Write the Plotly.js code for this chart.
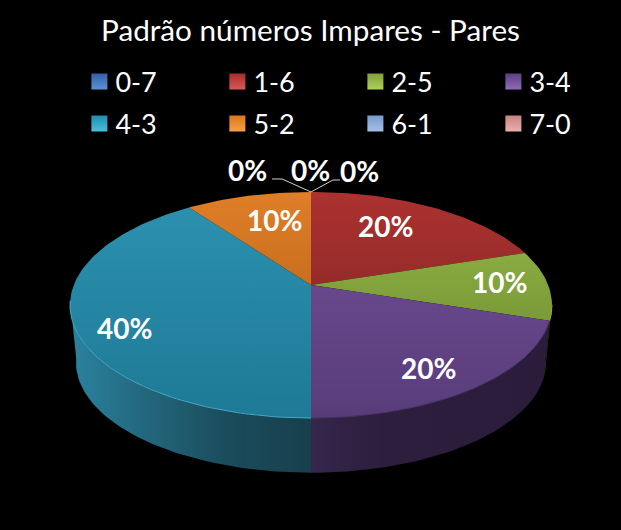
<!DOCTYPE html>
<html><head><meta charset="utf-8">
<script src="https://cdn.plot.ly/plotly-3.0.1.min.js"></script>
<style>html,body{margin:0;padding:0;background:#000}</style></head>
<body><div id="chart" style="width:621px;height:530px"></div>
<script>
// ---- data ----
const chartTitle = "Padrão números Impares - Pares";
const categories = ["0-7","1-6","2-5","3-4","4-3","5-2","6-1","7-0"];
const shares = [0,20,10,20,40,10,0,0];   // per cent, as printed on the labels

// ---- styling ----
const topColors = [["#35609a","#3d6ea8"],["#962b29","#ab3230"],["#7b9a38","#89ab40"],["#583c7a","#68488c"],
                   ["#1e7a96","#2b90ae"],["#c96f1e","#e07e28"],["#6e8dbe","#7f9fd0"],["#bd7c7a","#d08e8c"]];
const wallColors = [[[0,"#223"],[1,"#223"]],[[0,"#3a1512"],[1,"#3a1512"]],[[0,"#2f3a16"],[1,"#2a3413"]],
                    [[0,"#35264c"],[0.3,"#2c1e3c"],[1,"#2a1c3a"]],
                    [[0,"#2b83a0"],[0.3,"#23687e"],[0.65,"#1a4c5c"],[1,"#173f4d"]],
                    [[0,"#7a4210"],[1,"#7a4210"]],[[0,"#334"],[1,"#334"]],[[0,"#433"],[1,"#433"]]];
const rimColors = ["#3d6ea8","#b43431","#8fb043","#4a3366","#45a9c6","#e8832a","#7f9fd0","#d08e8c"];
const legendTop = [["#5b93d6","#2f62a3"],["#d85a56","#a82e2b"],["#aed05c","#80a038"],["#8f6bb5","#5f3f85"],
                   ["#45c0dd","#1f8dab"],["#f7a04a","#d87818"],["#a4c0e8","#7b9bcc"],["#eab0ae","#c88482"]];
const labelRadius = [0,0.68,0.8,0.78,0.82,0.75,0,0];
const labelNudge = [[0,0],[-12,-4],[-1,-3],[-5,5],[7,14],[12,4],[0,0],[0,0]];
const zeroOffset = {0:[-64,-22],6:[-1,-22],7:[48,-21]};

// ---- projection of the tilted disc ----
const view = {cx:311, cy:285, a:237.2, b:109.5, p:0.177, wallDrop:58, wallScale:0.975};
function project(deg, r, bottom){
  const t = deg*Math.PI/180, X = r*Math.sin(t), Y = r*Math.cos(t), w = 1+view.p*Y;
  const s = bottom ? view.wallScale : 1;
  return [view.cx + s*view.a*X/w, view.cy + (bottom?view.wallDrop:0) - s*view.b*Y/w];
}
function arc(a0,a1,bottom){
  const pts=[], n=Math.max(1,Math.ceil(Math.abs(a1-a0)/1.5));
  for(let i=0;i<=n;i++) pts.push(project(a0+(a1-a0)*i/n,1,bottom));
  return pts;
}
const total = shares.reduce((s,v)=>s+v,0);
let run = 0;
const slices = shares.map(v=>{const a0=run/total*360; run+=v; return {a0,a1:run/total*360,mid:(a0+run/total*360)/2};});

const traces = [];
const xy = pts=>({x:pts.map(p=>p[0]),y:pts.map(p=>p[1])});
const frontFrom=100, frontTo=262;
slices.forEach((s,i)=>{
  const a0=Math.max(s.a0,frontFrom), a1=Math.min(s.a1,frontTo);
  if(a1<=a0) return;
  const pts=arc(a0,a1,false).concat(arc(a1,a0,true));
  traces.push({type:"scatter",mode:"lines",...xy(pts),fill:"toself",line:{width:0},showlegend:false,hoverinfo:"skip",
    fillgradient:{type:"horizontal",colorscale:wallColors[i]}});
});
slices.forEach((s,i)=>{
  if(s.a1<=s.a0) return;
  const pts=[[view.cx,view.cy]].concat(arc(s.a0,s.a1,false));
  traces.push({type:"scatter",mode:"lines",...xy(pts),fill:"toself",line:{width:0},showlegend:false,hoverinfo:"skip",
    fillgradient:{type:"vertical",colorscale:[[0,topColors[i][0]],[1,topColors[i][1]]]}});
});
slices.forEach((s,i)=>{
  const a0=Math.max(s.a0,frontFrom), a1=Math.min(s.a1,frontTo);
  if(a1<=a0) return;
  traces.push({type:"scatter",mode:"lines",...xy(arc(a0,a1,false)),line:{width:1,color:rimColors[i]},showlegend:false,hoverinfo:"skip"});
});
const rim = project(0,1,false);
[[[-39,-13],[-29,-13]],[[29,-12],[22,-12]]].forEach(o=>{
  const pts=[[rim[0]+o[0][0],rim[1]+o[0][1]],[rim[0]+o[1][0],rim[1]+o[1][1]],rim];
  traces.push({type:"scatter",mode:"lines",...xy(pts),line:{width:1,color:"#d0d0d0"},showlegend:false,hoverinfo:"skip"});
});
categories.forEach((c,i)=>{
  traces.push({type:"scatter",mode:"markers",x:[null],y:[null],name:c,legend:i<4?"legend":"legend2",
    marker:{symbol:"square",size:17,color:legendTop[i][1],gradient:{type:"vertical",color:legendTop[i][0]},line:{width:0}}});
});
const annotations = shares.map((v,i)=>{
  const s=slices[i]; let p;
  if(v===0){ p=[rim[0]+zeroOffset[i][0],rim[1]+zeroOffset[i][1]]; }
  else { const q=project(s.mid,labelRadius[i],false); p=[q[0]+labelNudge[i][0],q[1]+labelNudge[i][1]]; }
  return {x:p[0],y:p[1],xref:"x",yref:"y",text:"<b>"+Math.round(v/total*100)+"%</b>",showarrow:false,
          font:{family:"Lato",size:28,color:"#fff"},xanchor:"center",yanchor:"middle"};
});
const legendBase = {orientation:"h",xanchor:"left",yanchor:"middle",x:0.1214,bgcolor:"rgba(0,0,0,0)",
  font:{family:"Lato",size:27,color:"#fff"},entrywidth:93,entrywidthmode:"pixels",itemclick:false,itemdoubleclick:false,traceorder:"normal"};
const layout = {
  width:621,height:530,margin:{l:0,r:0,t:0,b:0,autoexpand:false},paper_bgcolor:"#000",plot_bgcolor:"#000",
  title:{text:chartTitle,font:{family:"Lato",size:29.7,color:"#fff"},x:0.5,xanchor:"center",xref:"paper",y:1-31/530,yanchor:"middle",yref:"paper"},
  xaxis:{range:[0,621],visible:false,fixedrange:true},
  yaxis:{range:[530,0],visible:false,fixedrange:true},
  showlegend:true,
  legend:{...legendBase,y:1-82/530},
  legend2:{...legendBase,y:1-124/530},
  annotations
};
Plotly.newPlot("chart",traces,layout,{displayModeBar:false,responsive:false}).then(()=>{
  document.querySelectorAll(".legendsymbols").forEach(g=>g.setAttribute("transform","translate(4,0)"));
});
</script></body></html>
